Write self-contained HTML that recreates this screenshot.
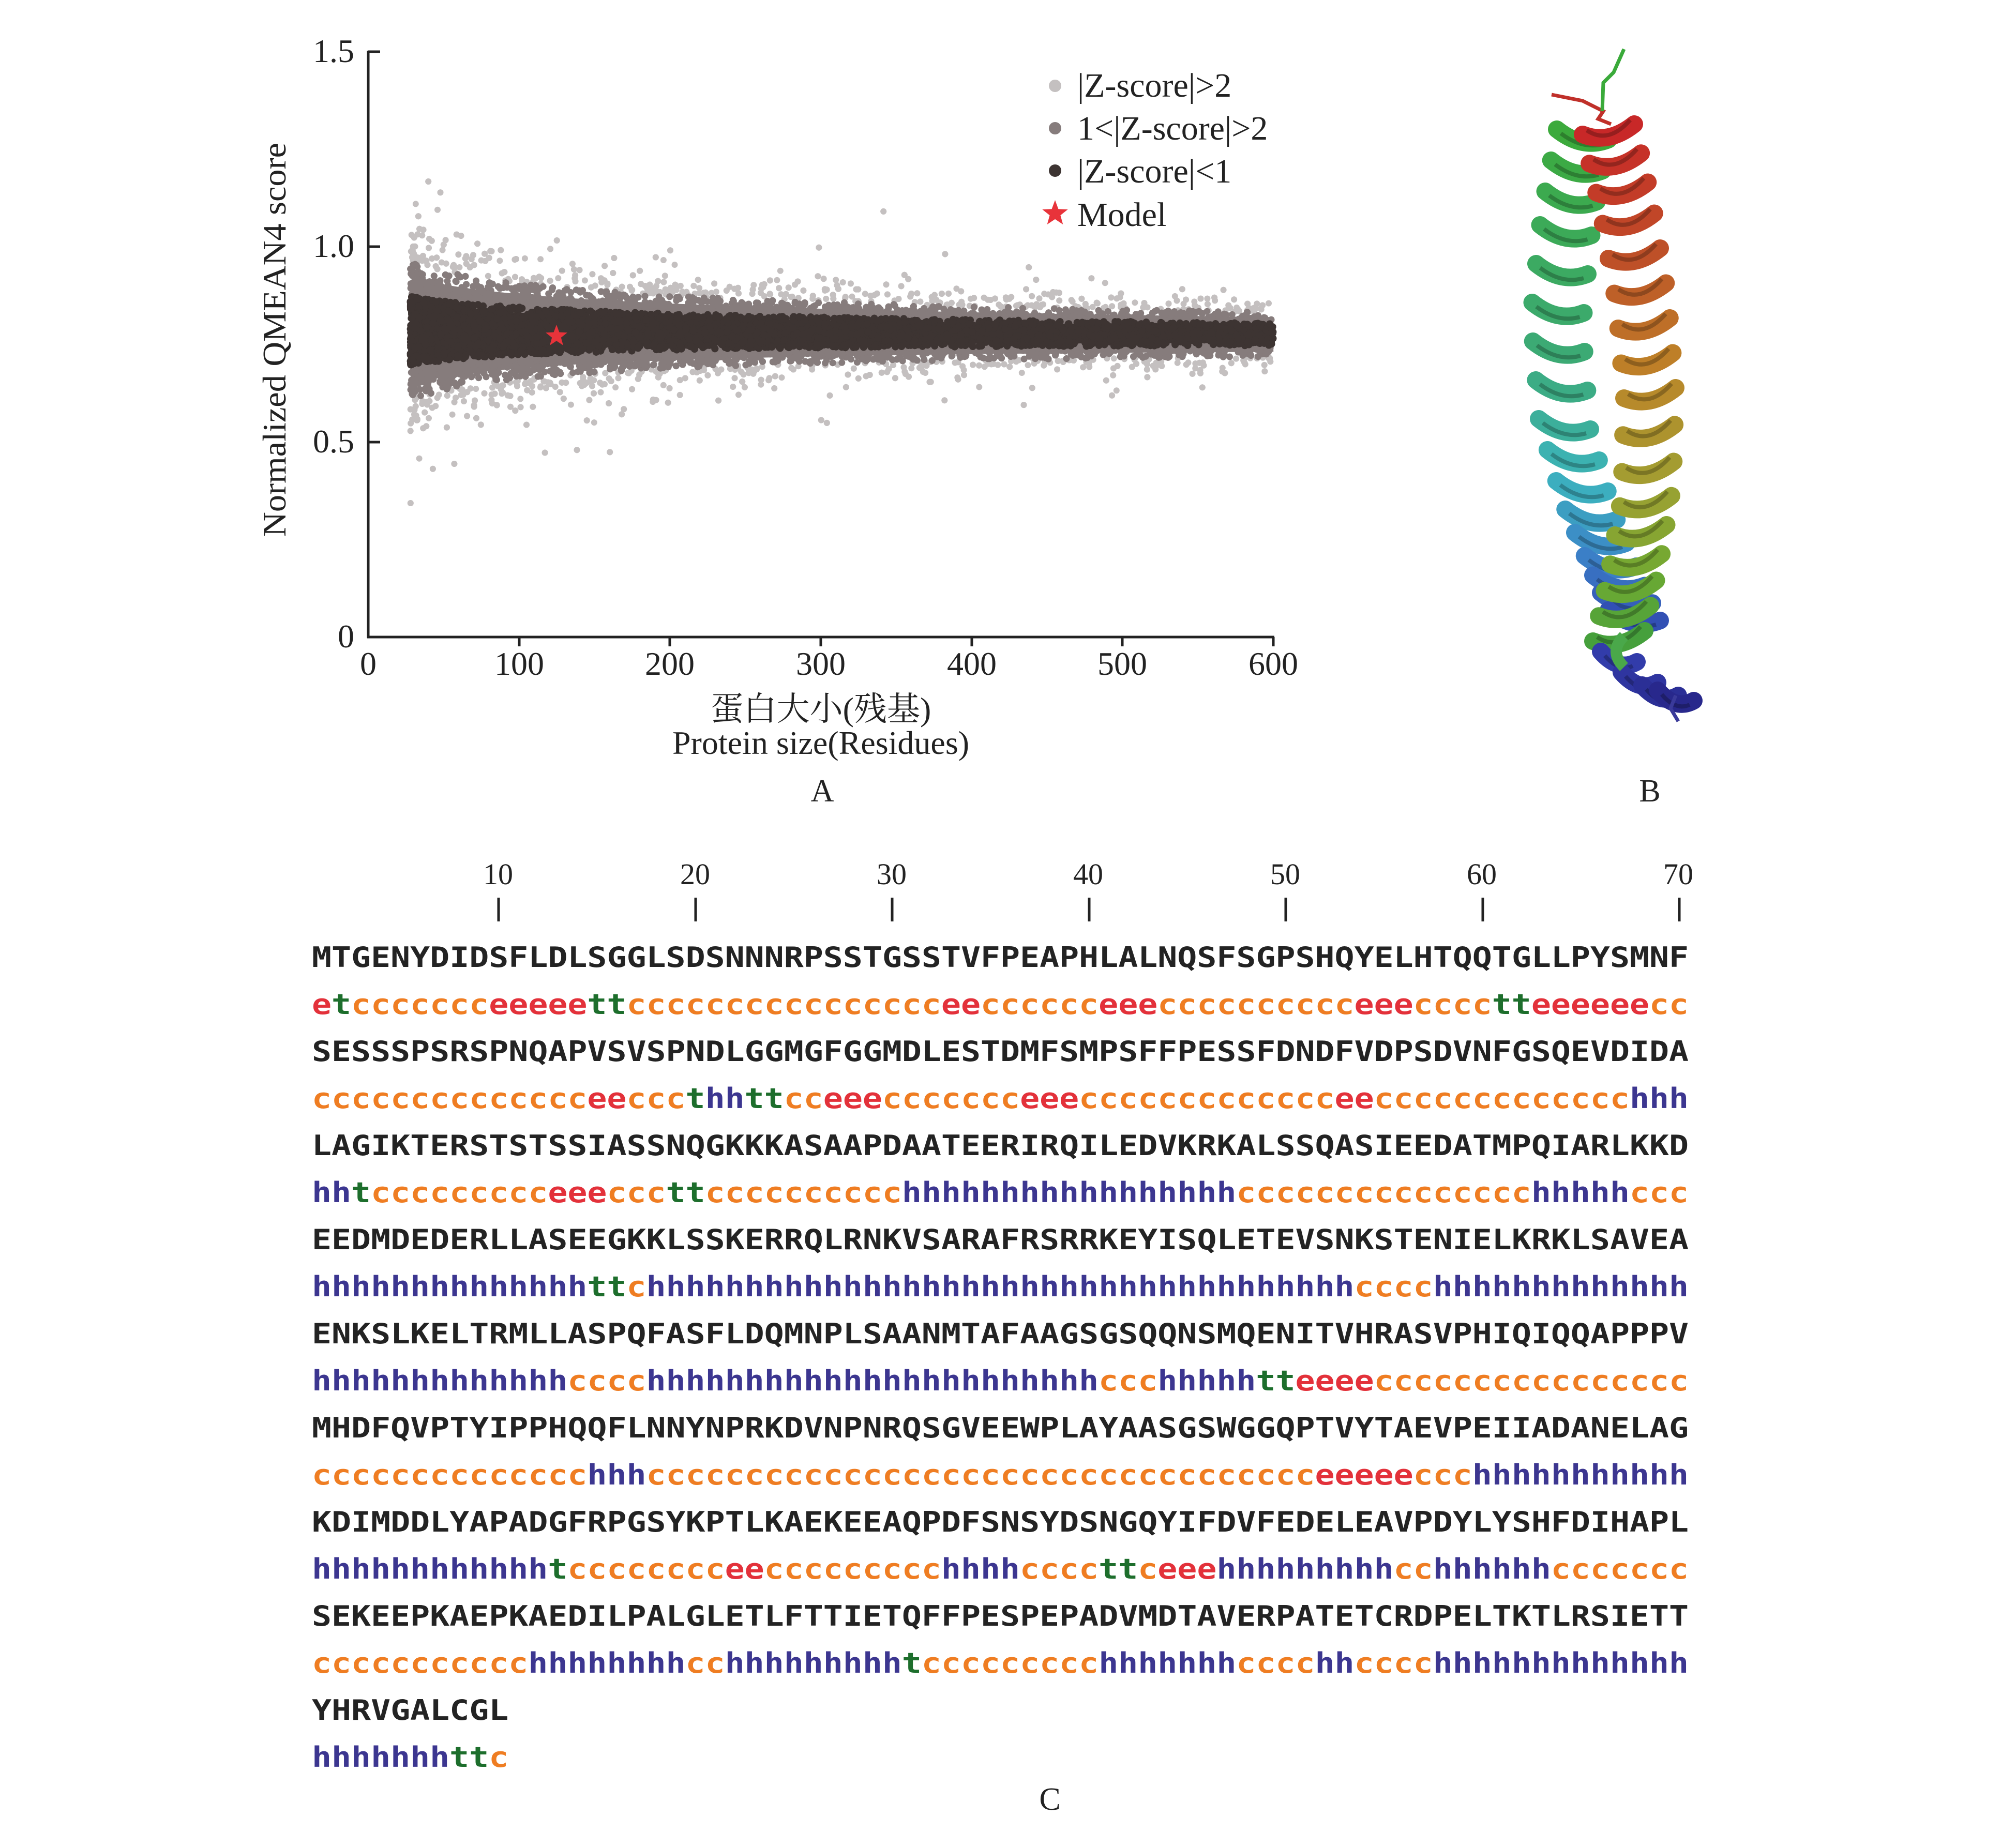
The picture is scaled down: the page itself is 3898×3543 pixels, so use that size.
<!DOCTYPE html>
<html><head><meta charset="utf-8">
<style>
html,body{margin:0;padding:0;background:#fff;}
svg{display:block;}
.serif{font-family:"Liberation Serif","Noto Serif CJK SC",serif;}
.mono{font-family:"DejaVu Sans Mono","Liberation Mono",monospace;font-weight:bold;font-size:54px;}
</style></head>
<body>
<svg id="s" width="3898" height="3543" viewBox="0 0 3898 3543" xmlns="http://www.w3.org/2000/svg">
<rect width="3898" height="3543" fill="#fff"/>
<g id="scatter"></g>
<g stroke="#222" stroke-width="5" fill="none">
<line x1="712" y1="98" x2="712" y2="1234"/>
<line x1="710" y1="1232" x2="2464" y2="1232"/>
<line x1="712" y1="100" x2="735" y2="100"/>
<line x1="712" y1="477" x2="735" y2="477"/>
<line x1="712" y1="855" x2="735" y2="855"/>
<line x1="1004" y1="1232" x2="1004" y2="1250"/>
<line x1="1295" y1="1232" x2="1295" y2="1250"/>
<line x1="1587" y1="1232" x2="1587" y2="1250"/>
<line x1="1879" y1="1232" x2="1879" y2="1250"/>
<line x1="2170" y1="1232" x2="2170" y2="1250"/>
<line x1="2462" y1="1232" x2="2462" y2="1250"/>
</g>
<g class="serif" font-size="64" fill="#222">
<text x="685" y="120" text-anchor="end">1.5</text>
<text x="685" y="497" text-anchor="end">1.0</text>
<text x="685" y="875" text-anchor="end">0.5</text>
<text x="685" y="1252" text-anchor="end">0</text>
<text x="712" y="1305" text-anchor="middle">0</text>
<text x="1004" y="1305" text-anchor="middle">100</text>
<text x="1295" y="1305" text-anchor="middle">200</text>
<text x="1587" y="1305" text-anchor="middle">300</text>
<text x="1879" y="1305" text-anchor="middle">400</text>
<text x="2170" y="1305" text-anchor="middle">500</text>
<text x="2462" y="1305" text-anchor="middle">600</text>
<text x="1587" y="1393" text-anchor="middle" font-size="64">蛋白大小(残基)</text>
<text x="1587" y="1458" text-anchor="middle" font-size="64">Protein size(Residues)</text>
<text x="1590" y="1550" text-anchor="middle" font-size="62">A</text>
<text x="3190" y="1550" text-anchor="middle" font-size="62">B</text>
<text transform="translate(552,657) rotate(-90)" text-anchor="middle" font-size="64" textLength="762" lengthAdjust="spacingAndGlyphs">Normalized QMEAN4 score</text>
</g>
<circle cx="2040" cy="166" r="12" fill="#c4c0c0"/>
<circle cx="2040" cy="248" r="12" fill="#867c7c"/>
<circle cx="2040" cy="330" r="12" fill="#3d3432"/>
<polygon id="star2" fill="#e8333a" points=""/>
<g class="serif" font-size="66" fill="#222">
<text x="2083" y="187">|Z-score|&gt;2</text>
<text x="2083" y="270">1&lt;|Z-score|&gt;2</text>
<text x="2083" y="353">|Z-score|&lt;1</text>
<text x="2083" y="437">Model</text>
</g>
<g id="protein"></g>
<g class="serif" font-size="58" fill="#222" text-anchor="middle">
<text x="963" y="1710">10</text><text x="1344" y="1710">20</text><text x="1724" y="1710">30</text>
<text x="2104" y="1710">40</text><text x="2485" y="1710">50</text><text x="2865" y="1710">60</text><text x="3245" y="1710">70</text>
</g>
<g stroke="#222" stroke-width="5">
<line x1="964" y1="1736" x2="964" y2="1782"/><line x1="1345" y1="1736" x2="1345" y2="1782"/>
<line x1="1725" y1="1736" x2="1725" y2="1782"/><line x1="2106" y1="1736" x2="2106" y2="1782"/>
<line x1="2486" y1="1736" x2="2486" y2="1782"/><line x1="2867" y1="1736" x2="2867" y2="1782"/>
<line x1="3247" y1="1736" x2="3247" y2="1782"/>
</g>
<g id="seq" class="mono"></g>
<text class="serif" x="2030" y="3500" font-size="62" fill="#222" text-anchor="middle">C</text>
</svg>
<script>
(function(){
var NS="http://www.w3.org/2000/svg";
function el(t,a,p){var e=document.createElementNS(NS,t);for(var k in a)e.setAttribute(k,a[k]);p.appendChild(e);return e;}
var seed=12345;function rnd(){seed=(seed*1103515245+12345)%2147483648;return seed/2147483648;}
function gauss(){var u=rnd()||1e-9,v=rnd();return Math.sqrt(-2*Math.log(u))*Math.cos(2*Math.PI*v);}
function PX(x){return 712+x*2.917;} function PY(y){return 1232-y*755;}
function sd(x){return 0.068*Math.sqrt(140/(x+40));}
function mean(x){return 0.785-0.01*Math.min(x,600)/600;}
var g=document.getElementById("scatter");
function band(k,col){var top=[],bot=[];for(var x=30;x<=600;x+=10){top.push(PX(x)+","+PY(mean(x)+k*sd(x)));bot.unshift(PX(x)+","+PY(mean(x)-k*sd(x)));}
el("polygon",{points:top.concat(bot).join(" "),fill:col},g);}
band(1.4,"#867c7c");band(0.7,"#3d3432");
var pts=[];
for(var i=0;i<13000;i++){var x=28+572*Math.pow(rnd(),1.35);var z=gauss()*1.05;if(rnd()<0.05)z*=1.9;pts.push([x,z]);}
var groups=[[1.8,9,"#c4c0c0",6],[0.9,1.8,"#867c7c",6.5],[0,0.9,"#3d3432",7]];
groups.forEach(function(gr){pts.forEach(function(p){var a=Math.abs(p[1]);if(a>=gr[0]&&a<gr[1]){var y=mean(p[0])+p[1]*sd(p[0]);if(y>0.2)el("circle",{cx:PX(p[0]).toFixed(1),cy:PY(y).toFixed(1),r:gr[3],fill:gr[2]},g);}});});
function star(cx,cy,R){var s=[];for(var k=0;k<10;k++){var r=k%2?R*0.42:R;var a=-Math.PI/2+k*Math.PI/5;s.push((cx+r*Math.cos(a)).toFixed(1)+","+(cy+r*Math.sin(a)).toFixed(1));}return s.join(" ");}
el("polygon",{points:star(1076,650,22),fill:"#e8333a"},g);
document.getElementById("star2").setAttribute("points",star(2040,413,26));
// protein
var P=document.getElementById("protein");
function lerp(a,b,t){return a+(b-a)*t;}
function colAt(stops,t){for(var i=0;i<stops.length-1;i++){if(t<=stops[i+1][0]){var u=(t-stops[i][0])/(stops[i+1][0]-stops[i][0]);var c0=stops[i][1],c1=stops[i+1][1];return "rgb("+Math.round(lerp(c0[0],c1[0],u))+","+Math.round(lerp(c0[1],c1[1],u))+","+Math.round(lerp(c0[2],c1[2],u))+")";}}return "rgb(0,0,0)";}
function pathAt(pts,t){var n=pts.length-1;var f=t*n;var i=Math.min(Math.floor(f),n-1);var u=f-i;return [lerp(pts[i][0],pts[i+1][0],u),lerp(pts[i][1],pts[i+1][1],u)];}
function helix(pts,stops,turns,w,dir){for(var k=0;k<turns;k++){var t=k/(turns-1);var c=pathAt(pts,t);var col=colAt(stops,t);
el("path",{d:"M"+(c[0]-w/2)+","+(c[1]-10*dir)+" Q"+c[0]+","+(c[1]+30)+" "+(c[0]+w/2)+","+(c[1]+10*dir),stroke:col,"stroke-width":34,fill:"none","stroke-linecap":"round"},P);
el("path",{d:"M"+(c[0]-w/2+8)+","+(c[1]-2*dir)+" Q"+c[0]+","+(c[1]+30)+" "+(c[0]+w/2-8)+","+(c[1]+18*dir),stroke:"rgba(0,0,0,0.25)","stroke-width":8,fill:"none"},P);}}
el("polyline",{points:"3000,183 3060,195 3100,215 3090,230 3115,240",stroke:"#c0302a","stroke-width":7,fill:"none"},P);
el("polyline",{points:"3140,95 3120,140 3100,160 3098,215",stroke:"#3aaa3a","stroke-width":7,fill:"none"},P);
helix([[3060,260],[3030,420],[3010,620],[3025,820],[3070,980],[3120,1100],[3160,1190]],
 [[0,[60,170,60]],[0.4,[60,170,120]],[0.6,[60,180,190]],[0.8,[60,130,200]],[1,[50,80,180]]],17,100,1);
helix([[3110,250],[3145,400],[3175,580],[3190,760],[3185,950],[3160,1100],[3130,1230]],
 [[0,[200,40,40]],[0.25,[190,80,40]],[0.45,[190,130,40]],[0.65,[160,160,50]],[0.85,[110,170,50]],[1,[70,160,60]]],17,100,-1);
helix([[3130,1270],[3170,1310],[3210,1335],[3240,1345]],[[0,[50,60,170]],[1,[40,40,140]]],4,70,1);
el("polyline",{points:"3240,1345 3230,1370 3245,1395",stroke:"#3a3a9a","stroke-width":7,fill:"none"},P);
el("path",{d:"M3140,1230 Q3110,1260 3140,1290",stroke:"#4aa84a","stroke-width":22,fill:"none"},P);
// sequence
function R(a){return a.map(function(p){return new Array(p[1]+1).join(p[0]);}).join("");}
var rows=[
["MTGENYDIDSFLDLSGGLSDSNNNRPSSTGSSTVFPEAPHLALNQSFSGPSHQYELHTQQTGLLPYSMNF",R([["e",1],["t",1],["c",7],["e",5],["t",2],["c",16],["e",2],["c",6],["e",3],["c",10],["e",3],["c",4],["t",2],["e",6],["c",2]])],
["SESSSPSRSPNQAPVSVSPNDLGGMGFGGMDLESTDMFSMPSFFPESSFDNDFVDPSDVNFGSQEVDIDA",R([["c",14],["e",2],["c",3],["t",1],["h",2],["t",2],["c",2],["e",3],["c",7],["e",3],["c",13],["e",2],["c",13],["h",3]])],
["LAGIKTERSTSTSSIASSNQGKKKASAAPDAATEERIRQILEDVKRKALSSQASIEEDATMPQIARLKKD",R([["h",2],["t",1],["c",9],["e",3],["c",3],["t",2],["c",10],["h",17],["c",15],["h",5],["c",3]])],
["EEDMDEDERLLASEEGKKLSSKERRQLRNKVSARAFRSRRKEYISQLETEVSNKSTENIELKRKLSAVEA",R([["h",14],["t",2],["c",1],["h",36],["c",4],["h",13]])],
["ENKSLKELTRMLLASPQFASFLDQMNPLSAANMTAFAAGSGSQQNSMQENITVHRASVPHIQIQQAPPPV",R([["h",13],["c",4],["h",23],["c",3],["h",5],["t",2],["e",4],["c",16]])],
["MHDFQVPTYIPPHQQFLNNYNPRKDVNPNRQSGVEEWPLAYAASGSWGGQPTVYTAEVPEIIADANELAG",R([["c",14],["h",3],["c",34],["e",5],["c",3],["h",11]])],
["KDIMDDLYAPADGFRPGSYKPTLKAEKEEAQPDFSNSYDSNGQYIFDVFEDELEAVPDYLYSHFDIHAPL",R([["h",12],["t",1],["c",8],["e",2],["c",9],["h",4],["c",4],["t",2],["c",1],["e",3],["h",9],["c",2],["h",6],["c",7]])],
["SEKEEPKAEPKAEDILPALGLETLFTTIETQFFPESPEPADVMDTAVERPATETCRDPELTKTLRSIETT",R([["c",11],["h",8],["c",2],["h",9],["t",1],["c",9],["h",7],["c",4],["h",2],["c",4],["h",13]])],
["YHRVGALCGL",R([["h",7],["t",2],["c",1]])]];
var C={e:"#e3313a",c:"#ef7d22",t:"#1d6e2c",h:"#3c3690"};
var S=document.getElementById("seq");
rows.forEach(function(r,i){var y=1870+i*2*91;var n=r[0].length;var L=n*38.03;
var t=el("text",{x:603,y:y,textLength:L.toFixed(1),lengthAdjust:"spacingAndGlyphs",fill:"#232323"},S);t.textContent=r[0];
var ss=r[1];
var t2=el("text",{x:603,y:y+91,textLength:L.toFixed(1),lengthAdjust:"spacingAndGlyphs"},S);
var runs=ss.match(/(.)\1*/g);runs.forEach(function(run){var sp=el("tspan",{fill:C[run[0]]},t2);sp.textContent=run;});
});
})();
</script>
</body></html>
